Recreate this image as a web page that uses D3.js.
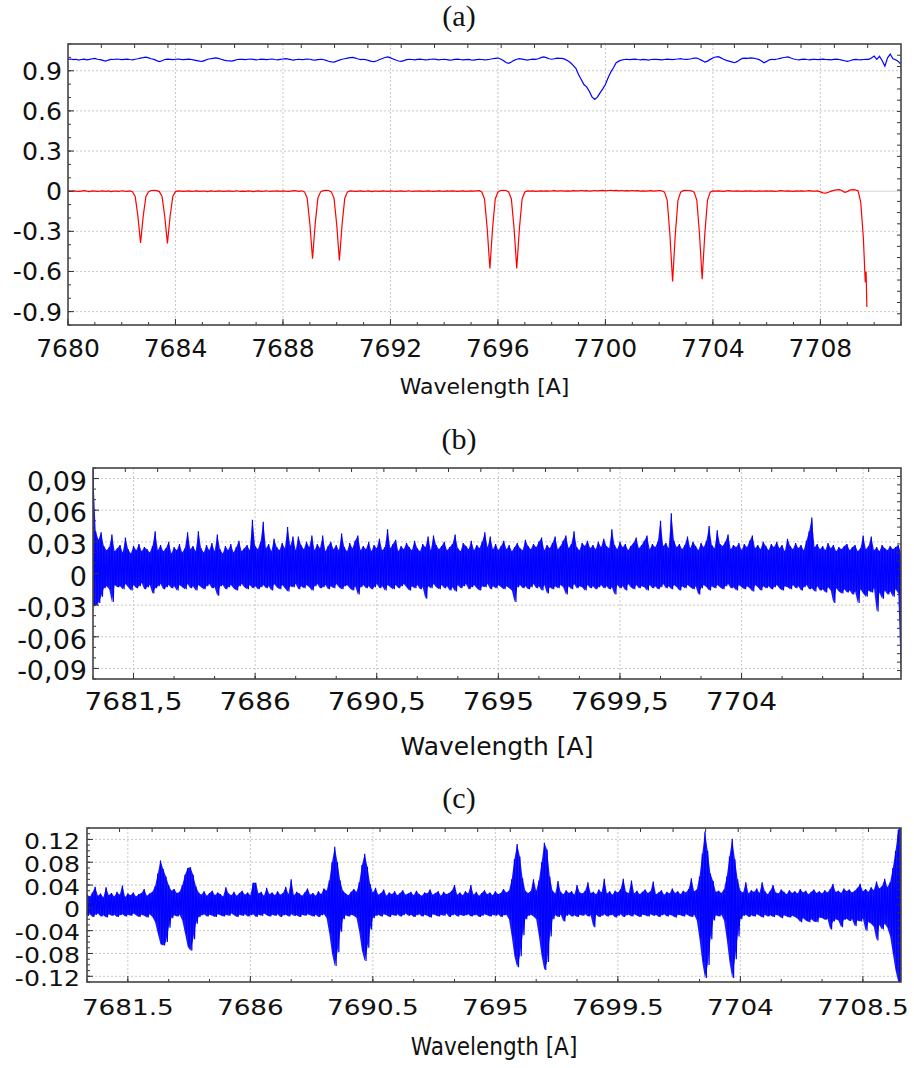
<!DOCTYPE html>
<html>
<head>
<meta charset="utf-8">
<script src="https://cdn.jsdelivr.net/npm/d3@7"></script>
<style>
  body { margin: 0; background: #fff; }
  svg { display: block; }
  text { font-family: "DejaVu Sans", sans-serif; fill: #111; }
</style>
</head>
<body>
<svg id="chart" width="914" height="1068"></svg>
<script>
// ---------- data (fluxes / residuals in units of 1e-3, sampled every 0.1 A from 7680 A) ----------
const gridStart = 7680, gridStep = 0.1;

// (a) blue: observed spectrum
const blueFlux = [
  985, 988, 983, 986, 980, 984, 987, 982, 985, 990,
  992, 986, 983, 978, 972, 980, 985, 984, 988, 986,
  983, 985, 987, 984, 982, 986, 990, 995, 998, 1002,
  996, 990, 985, 976, 968, 975, 984, 987, 985, 983,
  986, 988, 985, 983, 985, 987, 984, 980, 976, 972,
  970, 978, 986, 990, 993, 996, 992, 986, 980, 976,
  974, 972, 978, 984, 986, 985, 983, 986, 988, 985,
  982, 984, 987, 985, 983, 986, 988, 984, 982, 985,
  988, 990, 987, 983, 980, 984, 986, 983, 985, 988,
  986, 982, 979, 983, 986, 984, 978, 971, 966, 965,
  972, 980, 986, 990, 994, 998, 1000, 995, 988, 984,
  986, 982, 976, 970, 968, 975, 984, 992, 999, 1003,
  996, 988, 980, 973, 970, 976, 983, 986, 984, 982,
  985, 987, 984, 981, 983, 986, 988, 985, 982, 984,
  986, 983, 980, 982, 985, 987, 984, 981, 983, 985,
  982, 980, 983, 986, 984, 981, 983, 986, 990, 993,
  995, 988, 976, 962, 955, 965, 978, 986, 990, 987,
  983, 980, 984, 987, 985, 990, 998, 1004, 998, 990,
  986, 990, 994, 993, 992, 985, 975, 960, 940, 918,
  872, 835, 797, 780, 747, 705, 685, 703, 735, 765,
  797, 847, 890, 922, 960, 972, 980, 984, 986, 983,
  985, 987, 984, 982, 985, 983, 980, 984, 986, 985,
  983, 981, 984, 987, 985, 983, 986, 988, 990, 986,
  985, 987, 990, 994, 995, 986, 976, 965, 972, 985,
  995, 1003, 1005, 996, 986, 978, 972, 966, 960, 968,
  982, 992, 995, 993, 996, 994, 990, 985, 975, 960,
  970, 982, 986, 984, 988, 993, 997, 1001, 1003, 995,
  988, 984, 982, 985, 987, 984, 982, 985, 986, 983,
  985, 987, 984, 983, 981, 985, 987, 984, 980, 975,
  970, 975, 982, 985, 983, 982, 984, 986, 985, 995,
  1010, 985, 1008, 975, 935, 997, 1025, 990, 982, 970,
  948
];

// (a) red: model lines
const redFlux = [
  2, -1, 3, 0, -2, 1, 4, 0, -3, 2,
  1, -2, 0, 3, -1, 2, -3, 0, 1, -2,
  3, 0, -1, 2, -4, -39, -185, -386, -185, -39,
  -4, 5, 7, 4, -3, -39, -187, -390, -187, -39,
  -3, 2, 0, -2, 1, 3, -1, 0, 2, -2,
  0, 1, -3, 2, 0, -1, 3, 1, -2, 0,
  2, -1, 0, 3, -2, 1, -1, 2, 0, -3,
  1, 2, -1, 0, 3, -2, 1, 0, 2, -1,
  3, 0, -2, 1, 4, 2, -1, 3, -5, -50,
  -242, -505, -242, -50, -5, 4, 6, 5, -5, -52,
  -249, -518, -249, -52, -5, 2, 0, -2, 1, 3,
  -1, 0, 2, -3, 1, 0, -2, 2, 1, -1,
  3, 0, -2, 1, 2, -1, 0, 3, -2, 1,
  0, 2, -1, 1, 3, 0, -2, 1, 2, 0,
  -1, 2, 0, 3, 1, -2, 0, 2, -1, 1,
  3, 0, 2, 4, -6, -58, -277, -578, -277, -58,
  -6, 5, 7, 5, -6, -58, -277, -578, -277, -58,
  -6, 2, 0, 3, -1, 1, 2, 0, 3, 1,
  2, 4, 1, 3, 2, 0, 3, 1, 4, 2,
  3, 5, 2, 4, 1, 3, 5, 2, 4, 6,
  3, 5, 7, 4, 6, 3, 5, 2, 4, 3,
  5, 2, 4, 1, 3, 0, 2, 4, 1, 3,
  5, 3, -7, -68, -324, -675, -324, -68, -7, 4,
  6, 5, 3, -7, -66, -316, -658, -316, -66, -7,
  2, 0, 3, 1, -1, 2, 4, 1, 0, 3,
  1, -1, 2, 0, 3, 1, -2, 2, 0, 1,
  3, 0, 2, -1, 1, 4, 2, 0, 3, 1,
  -1, 2, 0, 3, 1, 2, 4, 1, 0, 2,
  -5, -12, -14, -8, 0, 6, 10, 12, 5, -8,
  -3, 8, 12, 10, 4, -80, -350
];
const redTail = [[7709.67, -680], [7709.70, -600], [7709.73, -866]];

// (b) residual: upper / lower excursion in each 0.1 A bin
const bHigh = [
  100, 40, 32, 39, 26, 22, 25, 37, 21, 24,
  27, 20, 34, 23, 19, 26, 22, 28, 21, 25,
  23, 20, 26, 40, 22, 27, 21, 24, 30, 19,
  25, 22, 28, 20, 24, 39, 23, 26, 21, 40,
  24, 20, 27, 22, 29, 21, 37, 23, 19, 26,
  22, 28, 20, 25, 31, 21, 24, 27, 22, 51,
  26, 23, 30, 49, 24, 28, 21, 33, 25, 22,
  29, 24, 44, 26, 35, 22, 35, 27, 23, 30,
  25, 36, 22, 28, 24, 36, 21, 26, 30, 23,
  27, 22, 38, 25, 21, 29, 24, 31, 36, 22,
  26, 23, 30, 21, 27, 24, 33, 22, 25, 42,
  24, 28, 32, 21, 26, 23, 29, 25, 22, 31,
  24, 21, 28, 25, 35, 22, 36, 27, 23, 26,
  30, 22, 25, 28, 37, 24, 21, 29, 26, 23,
  31, 22, 27, 24, 30, 39, 25, 35, 23, 28,
  22, 26, 31, 23, 27, 21, 25, 29, 24, 22,
  32, 26, 23, 28, 25, 30, 34, 22, 27, 24,
  29, 35, 23, 26, 31, 36, 24, 28, 40, 25,
  22, 29, 26, 31, 24, 27, 23, 30, 25, 33,
  26, 24, 42, 27, 23, 30, 25, 28, 22, 26,
  29, 34, 24, 27, 31, 36, 23, 28, 25, 30,
  50, 26, 29, 24, 57, 31, 25, 28, 23, 27,
  35, 24, 30, 26, 22, 29, 25, 31, 45, 27,
  24, 41, 28, 26, 30, 37, 23, 27, 25, 29,
  22, 28, 25, 31, 36, 24, 27, 23, 30, 26,
  22, 28, 25, 30, 24, 27, 21, 33, 26, 23,
  29, 24, 27, 22, 31, 40, 53, 25, 28, 23,
  26, 22, 29, 24, 27, 21, 25, 23, 26, 28,
  22, 25, 27, 21, 24, 36, 23, 26, 35, 22,
  25, 21, 27, 24, 22, 26, 23, 25, 27, 20
];
const bLow = [
  -31, -30, -28, -22, -14, -12, -15, -27, -11, -13,
  -12, -15, -10, -13, -16, -11, -14, -12, -9, -15,
  -13, -11, -19, -14, -12, -10, -15, -13, -11, -14,
  -12, -16, -11, -13, -15, -10, -14, -12, -16, -11,
  -13, -15, -12, -10, -14, -13, -21, -12, -11, -15,
  -13, -11, -14, -16, -12, -10, -13, -15, -11, -14,
  -12, -15, -13, -11, -14, -12, -16, -10, -13, -15,
  -11, -14, -17, -12, -13, -10, -15, -12, -14, -11,
  -13, -16, -12, -10, -14, -13, -11, -15, -12, -14,
  -10, -13, -15, -12, -11, -14, -16, -12, -20, -13,
  -11, -14, -12, -15, -13, -10, -14, -12, -16, -11,
  -13, -15, -11, -14, -12, -10, -13, -16, -12, -14,
  -11, -15, -13, -24, -12, -14, -10, -13, -15, -11,
  -14, -12, -16, -13, -17, -11, -14, -12, -10, -15,
  -13, -11, -14, -16, -12, -13, -10, -15, -12, -14,
  -11, -13, -15, -12, -14, -16, -27, -13, -11, -14,
  -12, -15, -13, -10, -14, -12, -16, -11, -19, -13,
  -15, -12, -14, -11, -13, -20, -12, -15, -10, -14,
  -12, -13, -16, -11, -14, -12, -15, -13, -11, -14,
  -12, -15, -13, -20, -11, -14, -12, -16, -10, -13,
  -15, -11, -14, -12, -13, -16, -11, -14, -12, -15,
  -13, -10, -14, -12, -15, -11, -13, -16, -12, -14,
  -11, -13, -15, -12, -20, -14, -11, -13, -16, -12,
  -14, -11, -13, -15, -12, -10, -14, -13, -16, -11,
  -13, -15, -12, -14, -17, -11, -13, -16, -12, -14,
  -12, -15, -13, -11, -14, -16, -12, -13, -15, -11,
  -14, -12, -16, -13, -11, -15, -14, -17, -12, -16,
  -15, -18, -13, -16, -28, -14, -17, -19, -15, -18,
  -16, -20, -17, -28, -15, -19, -22, -16, -18, -14,
  -36, -18, -24, -16, -20, -17, -22, -15, -19, -100
];

// (c) residual: upper / lower excursion in each 0.1 A bin
const cHigh = [
  24, 19, 27, 37, 21, 25, 18, 36, 22, 26,
  20, 28, 23, 39, 19, 25, 22, 27, 20, 24,
  26, 33, 21, 25, 28, 38, 60, 83, 68, 55,
  40, 30, 33, 26, 28, 40, 58, 70, 71, 58,
  38, 27, 23, 29, 21, 26, 30, 22, 27, 24,
  20, 36, 25, 22, 28, 21, 26, 30, 23, 27,
  22, 44, 44, 25, 28, 21, 35, 24, 27, 22,
  29, 23, 26, 37, 24, 50, 22, 28, 25, 21,
  27, 34, 23, 26, 21, 29, 24, 34, 30, 48,
  80, 107, 80, 48, 30, 25, 22, 28, 33, 28,
  45, 75, 95, 72, 42, 27, 35, 23, 26, 32,
  21, 27, 24, 29, 22, 26, 31, 23, 25, 28,
  22, 30, 24, 21, 27, 25, 32, 23, 26, 29,
  21, 28, 24, 26, 30, 40, 23, 27, 22, 29,
  25, 40, 23, 28, 21, 26, 31, 24, 27, 22,
  29, 24, 26, 33, 27, 30, 50, 85, 112, 90,
  52, 30, 26, 29, 50, 30, 48, 80, 114, 102,
  55, 30, 25, 47, 28, 24, 31, 26, 29, 23,
  40, 27, 25, 30, 45, 26, 28, 24, 32, 27,
  51, 25, 29, 23, 30, 27, 33, 51, 28, 26,
  48, 25, 30, 24, 28, 32, 26, 29, 46, 24,
  27, 31, 23, 28, 25, 34, 26, 29, 24, 30,
  27, 33, 52, 29, 32, 55, 95, 134, 100, 60,
  47, 28, 30, 26, 32, 55, 90, 121, 85, 50,
  30, 27, 45, 25, 31, 28, 34, 26, 45, 29,
  24, 30, 40, 27, 25, 32, 28, 24, 31, 26,
  29, 25, 33, 27, 30, 24, 28, 32, 26, 29,
  25, 31, 27, 33, 42, 28, 30, 26, 34, 29,
  32, 27, 30, 35, 42, 29, 33, 28, 36, 31,
  46, 34, 38, 51, 36, 45, 70, 100, 137, 145
];
const cLow = [
  -14, -11, -16, -12, -10, -15, -13, -17, -11, -14,
  -12, -16, -13, -11, -15, -12, -14, -10, -13, -16,
  -12, -14, -17, -11, -16, -25, -45, -64, -66, -60,
  -35, -18, -13, -15, -12, -22, -45, -68, -75, -55,
  -28, -16, -13, -11, -15, -12, -14, -16, -11, -13,
  -15, -12, -14, -10, -13, -16, -12, -14, -11, -15,
  -13, -11, -16, -12, -14, -10, -13, -15, -12, -14,
  -11, -16, -13, -12, -15, -11, -14, -13, -16, -12,
  -14, -11, -13, -15, -12, -16, -13, -11, -18, -45,
  -80, -102, -78, -42, -20, -13, -15, -12, -14, -18,
  -42, -75, -93, -70, -38, -18, -14, -12, -15, -11,
  -13, -16, -12, -14, -11, -15, -13, -10, -14, -12,
  -16, -13, -11, -15, -12, -14, -17, -11, -13, -15,
  -12, -14, -10, -16, -13, -11, -15, -12, -14, -13,
  -11, -15, -13, -12, -16, -14, -11, -13, -15, -12,
  -14, -11, -16, -13, -12, -20, -50, -85, -104, -85,
  -48, -20, -14, -12, -15, -20, -50, -85, -109, -95,
  -50, -20, -13, -16, -12, -24, -14, -11, -15, -13,
  -16, -12, -14, -11, -15, -13, -34, -12, -16, -14,
  -11, -15, -13, -12, -17, -14, -11, -16, -13, -12,
  -15, -11, -14, -16, -12, -13, -15, -11, -14, -12,
  -16, -13, -11, -15, -12, -14, -17, -12, -13, -15,
  -11, -14, -16, -12, -22, -55, -95, -123, -100, -55,
  -22, -13, -15, -12, -22, -55, -95, -123, -90, -50,
  -20, -14, -12, -16, -13, -15, -11, -14, -17, -12,
  -15, -13, -16, -12, -14, -18, -13, -15, -17, -14,
  -16, -19, -25, -18, -22, -25, -20, -24, -25, -17,
  -18, -21, -19, -38, -24, -20, -22, -34, -21, -19,
  -23, -20, -32, -22, -24, -19, -40, -25, -28, -33,
  -57, -30, -38, -28, -35, -50, -80, -110, -130, -135
];

// ---------- ticks ----------
const aXTicks = [7680, 7684, 7688, 7692, 7696, 7700, 7704, 7708];
const aXLabels = ["7680", "7684", "7688", "7692", "7696", "7700", "7704", "7708"];
const aYTicks = [-0.9, -0.6, -0.3, 0, 0.3, 0.6, 0.9];
const aYLabels = ["-0.9", "-0.6", "-0.3", "0", "0.3", "0.6", "0.9"];
const bXTicks = [7681.5, 7686, 7690.5, 7695, 7699.5, 7704, 7708.5];
const bXLabels = ["7681,5", "7686", "7690,5", "7695", "7699,5", "7704", ""];
const bYTicks = [-0.09, -0.06, -0.03, 0, 0.03, 0.06, 0.09];
const bYLabels = ["-0,09", "-0,06", "-0,03", "0", "0,03", "0,06", "0,09"];
const cXTicks = [7681.5, 7686, 7690.5, 7695, 7699.5, 7704, 7708.5];
const cXLabels = ["7681.5", "7686", "7690.5", "7695", "7699.5", "7704", "7708.5"];
const cYTicks = [-0.12, -0.08, -0.04, 0, 0.04, 0.08, 0.12];
const cYLabels = ["-0.12", "-0.08", "-0.04", "0", "0.04", "0.08", "0.12"];

const svg = d3.select("#chart");
const wl = (i) => gridStart + i * gridStep;

function setupPanel(p) {
  const x = d3.scaleLinear().domain(p.xDomain).range([p.left, p.right]);
  const y = d3.scaleLinear().domain(p.yDomain).range([p.bottom, p.top]);
  const g = svg.append("g");

  g.append("clipPath").attr("id", p.id + "-clip").append("rect")
    .attr("x", p.left).attr("y", p.top)
    .attr("width", p.right - p.left).attr("height", p.bottom - p.top);

  // dotted grid at the major ticks
  g.selectAll(".gx").data(p.xTicks.filter((v) => x(v) > p.left + 2)).join("line")
    .attr("class", "gx")
    .attr("x1", (d) => x(d)).attr("x2", (d) => x(d))
    .attr("y1", p.top).attr("y2", p.bottom)
    .attr("stroke", "#c8c8c8").attr("stroke-dasharray", "2,2");
  g.selectAll(".gy").data(p.yTicks).join("line")
    .attr("class", "gy")
    .attr("x1", p.left).attr("x2", p.right)
    .attr("y1", (d) => y(d)).attr("y2", (d) => y(d))
    .attr("stroke", (d) => (d === 0 && p.solidZero ? "#d4d4d4" : "#c8c8c8"))
    .attr("stroke-dasharray", (d) => (d === 0 && p.solidZero ? null : "2,2"));

  const plot = g.append("g").attr("clip-path", `url(#${p.id}-clip)`);
  return { x, y, g, plot };
}

function finishPanel(p, s) {
  const { x, y } = s;
  const g = svg.append("g");
  const tick = (x1, y1, x2, y2) =>
    g.append("line").attr("x1", x1).attr("y1", y1).attr("x2", x2).attr("y2", y2)
      .attr("stroke", "#333").attr("stroke-width", 1);

  p.xMinor.forEach((v) => tick(x(v), p.bottom, x(v), p.bottom - 3));
  p.xTicks.forEach((v) => tick(x(v), p.bottom, x(v), p.bottom - 6));
  p.yMinor.forEach((v) => tick(p.left, y(v), p.left + 3, y(v)));
  p.yTicks.forEach((v) => tick(p.left, y(v), p.left + 6, y(v)));

  // secondary (top / right) axes, evenly divided
  const top2 = d3.scaleLinear().domain([0, 25]).range([p.left, p.right]);
  d3.range(1, 25).forEach((k) => tick(top2(k), p.top, top2(k), p.top + 4));
  const right2 = d3.scaleLinear().domain([0, p.rightDiv]).range([p.bottom, p.top]);
  d3.range(1, p.rightDiv).forEach((k) => tick(p.right, right2(k), p.right - 4, right2(k)));

  g.append("rect")
    .attr("x", p.left).attr("y", p.top)
    .attr("width", p.right - p.left).attr("height", p.bottom - p.top)
    .attr("fill", "none").attr("stroke", "#444").attr("stroke-width", 1.6);

  const txt = (str, tx, ty, size, anchor, sx) =>
    g.append("text")
      .attr("transform", `translate(${tx},${ty}) scale(${sx},1)`)
      .attr("text-anchor", anchor)
      .style("font-size", size + "px")
      .text(str);

  p.yTicks.forEach((v, i) =>
    txt(p.yLabels[i], p.yLabelX, y(v) + p.yLabelDy, p.yLabelSize, "end", p.yLabelSx));
  p.xTicks.forEach((v, i) =>
    txt(p.xLabels[i], x(v), p.xLabelBase, p.xLabelSize, "middle", p.xLabelSx));
  txt("Wavelength [A]", (p.left + p.right) / 2, p.titleBase, p.titleSize, "middle", p.titleSx);

  g.append("text")
    .attr("x", 459).attr("y", p.letterBase)
    .attr("text-anchor", "middle")
    .style("font-family", "'Liberation Serif', serif")
    .style("font-size", "30px")
    .text(p.letter);
}

// ---------- panel (a) ----------
const pA = {
  id: "a", left: 68, right: 901, top: 44, bottom: 325,
  xDomain: [7680, 7711], yDomain: [-1.0, 1.1],
  xTicks: aXTicks, xLabels: aXLabels, yTicks: aYTicks, yLabels: aYLabels,
  xMinor: d3.range(7680, 7712, 1), yMinor: d3.range(-10, 12).map((k) => k / 10),
  rightDiv: 25, solidZero: true,
  yLabelX: 62, yLabelDy: 9, yLabelSize: 24, yLabelSx: 1.05,
  xLabelBase: 357, xLabelSize: 25, xLabelSx: 1,
  titleBase: 394, titleSize: 22, titleSx: 1,
  letter: "(a)", letterBase: 26
};
const sA = setupPanel(pA);
const lineA = d3.line().x((d) => sA.x(d[0])).y((d) => sA.y(d[1] / 1000));
sA.plot.append("path")
  .datum(blueFlux.map((v, i) => [wl(i), v]))
  .attr("d", lineA).attr("fill", "none").attr("stroke", "#0000ff").attr("stroke-width", 1.2);
sA.plot.append("path")
  .datum(redFlux.map((v, i) => [wl(i), v]).concat(redTail))
  .attr("d", lineA).attr("fill", "none").attr("stroke", "#ff0000").attr("stroke-width", 1.2);
finishPanel(pA, sA);

// residual panels: filled band between the bin extremes, plus a zig-zag
// through them for the spiky edge
function drawResidual(s, hi, lo) {
  const bins = hi.map((h, i) => [wl(i), h, lo[i]]);
  s.plot.append("path")
    .datum(bins)
    .attr("d", d3.area()
      .x((d) => s.x(d[0]))
      .y0((d) => s.y(d[2] / 1000))
      .y1((d) => s.y(d[1] / 1000)))
    .attr("fill", "#0000ff").attr("fill-opacity", 0.9);

  const pts = hi.flatMap((h, i) => [[wl(i), h], [wl(i) + gridStep / 2, lo[i]]]);
  s.plot.append("path")
    .datum(pts)
    .attr("d", d3.line().x((d) => s.x(d[0])).y((d) => s.y(d[1] / 1000)))
    .attr("fill", "none").attr("stroke", "#0000ff").attr("stroke-width", 1.2);
}

// ---------- panel (b) ----------
const pB = {
  id: "b", left: 93, right: 901, top: 468, bottom: 679,
  xDomain: [7680, 7709.9], yDomain: [-0.1, 0.1],
  xTicks: bXTicks, xLabels: bXLabels, yTicks: bYTicks, yLabels: bYLabels,
  xMinor: d3.range(0, 20).map((k) => 7680 + 1.5 * k), yMinor: d3.range(-10, 11).map((k) => k / 100),
  rightDiv: 25, solidZero: false,
  yLabelX: 87, yLabelDy: 12, yLabelSize: 27, yLabelSx: 1,
  xLabelBase: 710, xLabelSize: 25, xLabelSx: 1.12,
  titleBase: 755, titleSize: 25, titleSx: 1,
  letter: "(b)", letterBase: 449
};
const sB = setupPanel(pB);
drawResidual(sB, bHigh, bLow);
finishPanel(pB, sB);

// ---------- panel (c) ----------
const pC = {
  id: "c", left: 87, right: 901, top: 828, bottom: 982,
  xDomain: [7680, 7709.9], yDomain: [-0.13, 0.14],
  xTicks: cXTicks, xLabels: cXLabels, yTicks: cYTicks, yLabels: cYLabels,
  xMinor: d3.range(0, 20).map((k) => 7680 + 1.5 * k), yMinor: d3.range(-13, 15).map((k) => k / 100),
  rightDiv: 20, solidZero: false,
  yLabelX: 80, yLabelDy: 9.5, yLabelSize: 21, yLabelSx: 1.2,
  xLabelBase: 1015, xLabelSize: 21, xLabelSx: 1.25,
  titleBase: 1055, titleSize: 24, titleSx: 0.9,
  letter: "(c)", letterBase: 808
};
const sC = setupPanel(pC);
drawResidual(sC, cHigh, cLow);
finishPanel(pC, sC);
</script>
</body>
</html>
